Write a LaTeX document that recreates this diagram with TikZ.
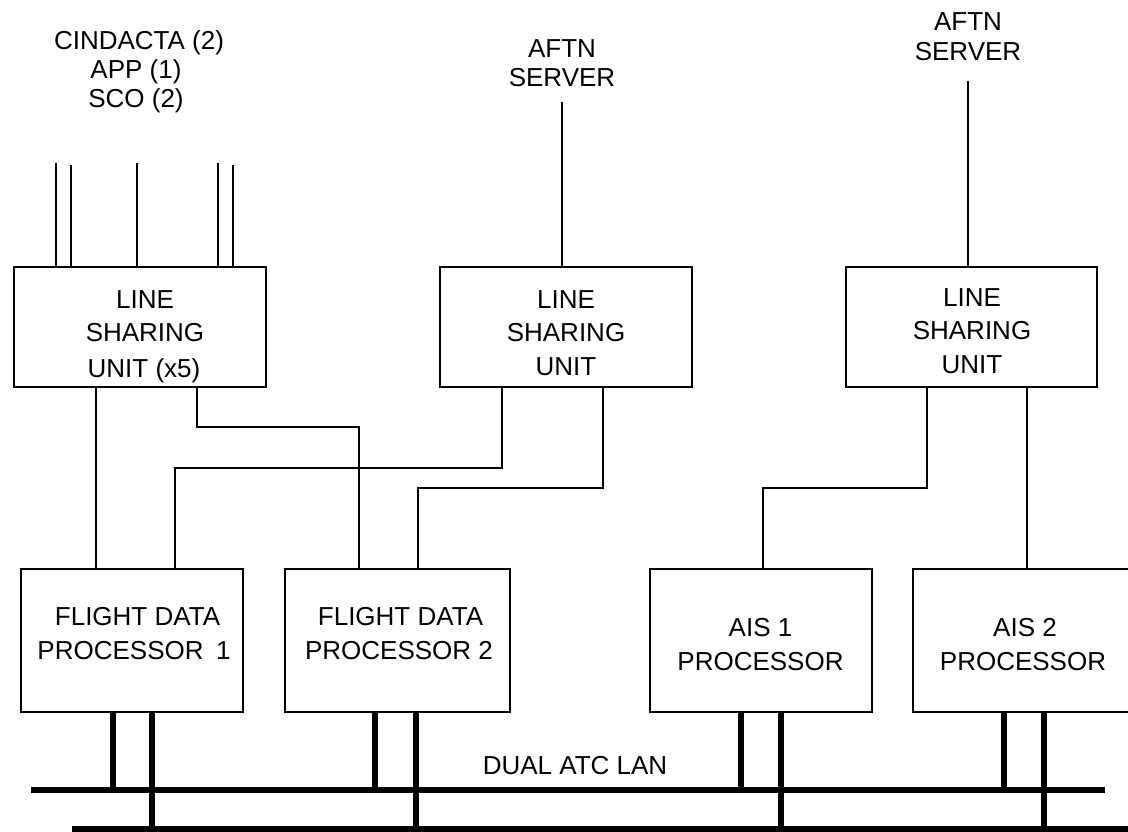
\documentclass[tikz,border=0pt]{standalone}
\usepackage{fontspec}
\setmainfont{Liberation Sans}
\begin{document}
\begin{tikzpicture}[x=1pt,y=-1pt,
  box/.style={draw, line width=2pt, inner sep=0pt, outer sep=0pt},
  lsubox/.style={box, minimum width=#1, minimum height=120pt},
  procbox/.style={box, minimum width=#1, minimum height=143pt},
  lbl/.style={anchor=base, inner sep=0pt, outer sep=0pt, font=\fontsize{26}{30}\selectfont},
  wire/.style={line width=2pt},
  lan/.style={line width=6.5pt},
  tap/.style={line width=6.5pt}
]
\useasboundingbox (0,0) rectangle (1128,832);
\clip (0,0) rectangle (1128,832);

% boxes
\node[lsubox=252pt] (lsu1) at (140,327) {};
\node[lsubox=252pt] (lsu2) at (566,327) {};
\node[lsubox=251pt] (lsu3) at (971.5,327) {};
\node[procbox=222pt] (fdp1) at (132,640.5) {};
\node[procbox=225pt] (fdp2) at (397.5,640.5) {};
\node[procbox=222pt] (ais1) at (761,640.5) {};
\node[procbox=222pt] (ais2) at (1024,640.5) {};

% box texts
\node[lbl] (l1a) at (145,308) {LINE};
\node[lbl] (l1b) at (145,341.5) {SHARING};
\node[lbl] (l1c) at (144,377) {UNIT (x5)};
\node[lbl] (l2a) at (566,308) {LINE};
\node[lbl] (l2b) at (566,341) {SHARING};
\node[lbl] (l2c) at (566,375) {UNIT};
\node[lbl] (l3a) at (972,306) {LINE};
\node[lbl] (l3b) at (972,339) {SHARING};
\node[lbl] (l3c) at (972,373) {UNIT};
\node[lbl] (f1a) at (137.5,625) {FLIGHT DATA};
\node[lbl] (f1b) at (134,659) {PROCESSOR\hspace{0.2em} 1};
\node[lbl] (f2a) at (400.5,625) {FLIGHT DATA};
\node[lbl] (f2b) at (399,659) {PROCESSOR 2};
\node[lbl] (a1a) at (760.5,636) {AIS 1};
\node[lbl] (a1b) at (760.5,670) {PROCESSOR};
\node[lbl] (a2a) at (1025,636) {AIS 2};
\node[lbl] (a2b) at (1023,670) {PROCESSOR};
\node[lbl] (lanlbl) at (575,774) {DUAL ATC LAN};

% top labels
\node[lbl] (c1) at (139,50) {CINDACTA (2)};
\node[lbl] (c2) at (136,79) {APP (1)};
\node[lbl] (c3) at (136,108) {SCO (2)};
\node[lbl] (m1) at (562,58) {AFTN};
\node[lbl] (m2) at (562,87) {SERVER};
\node[lbl] (r1) at (968,31) {AFTN};
\node[lbl] (r2) at (968,61) {SERVER};

% incoming lines
\coordinate (t1) at (56,163);
\coordinate (t2) at (71,165);
\coordinate (t3) at (137,163);
\coordinate (t4) at (218,163);
\coordinate (t5) at (233,165);
\coordinate (tm) at (562,102);
\coordinate (tr) at (968,81);
\foreach \t in {t1,t2,t3,t4,t5}{\draw[wire] (\t) -- (\t |- lsu1.north);}
\draw[wire] (tm) -- (tm |- lsu2.north);
\draw[wire] (tr) -- (tr |- lsu3.north);

% connections LSU -> processors
\coordinate (p1) at (96,0);
\draw[wire] (p1 |- lsu1.south) -- (p1 |- fdp1.north);
\coordinate (p2) at (197,427);
\coordinate (p3) at (359,427);
\draw[wire] (p2 |- lsu1.south) -- (p2) -- (p3) -- (p3 |- fdp2.north);
\coordinate (p4) at (502,468);
\coordinate (p5) at (175,468);
\draw[wire] (p4 |- lsu2.south) -- (p4) -- (p5) -- (p5 |- fdp1.north);
\coordinate (p6) at (603,488);
\coordinate (p7) at (418,488);
\draw[wire] (p6 |- lsu2.south) -- (p6) -- (p7) -- (p7 |- fdp2.north);
\coordinate (p8) at (927,488);
\coordinate (p9) at (763,488);
\draw[wire] (p8 |- lsu3.south) -- (p8) -- (p9) -- (p9 |- ais1.north);
\coordinate (p10) at (1027,0);
\draw[wire] (p10 |- lsu3.south) -- (p10 |- ais2.north);

% LAN
\coordinate (lanAw) at (31,790);
\coordinate (lanAe) at (1105,790);
\coordinate (lanBw) at (72,829);
\coordinate (lanBe) at (1140,829);
\draw[lan] (lanAw) -- (lanAe);
\draw[lan] (lanBw) -- (lanBe);
\foreach \x/\n in {113/fdp1,375/fdp2,741/ais1,1004/ais2}{
  \coordinate (u) at (\x,0);
  \draw[tap] (u |- \n.south) -- (u |- lanAw);
}
\foreach \x/\n in {152/fdp1,416/fdp2,781/ais1,1044/ais2}{
  \coordinate (v) at (\x,0);
  \draw[tap] (v |- \n.south) -- (v |- lanBw);
}
\end{tikzpicture}
\end{document}
